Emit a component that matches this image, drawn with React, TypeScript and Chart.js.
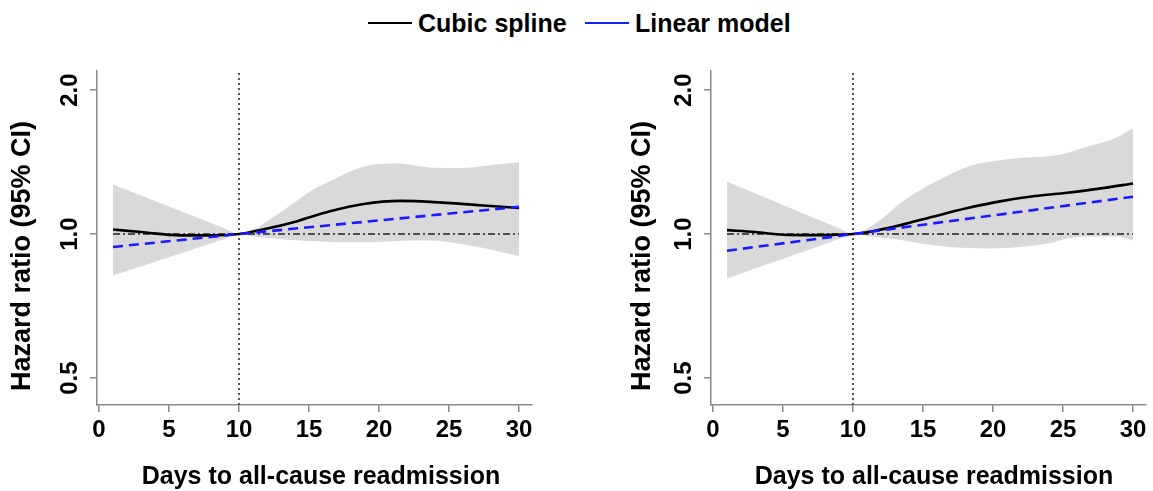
import React, { useEffect, useRef } from "react";
import { Chart, registerables } from "chart.js";

Chart.register(...registerables);

const FONT = "'Liberation Sans', Arial, Helvetica, sans-serif";

// Axis ticks and ranges
const X_TICKS = [0, 5, 10, 15, 20, 25, 30];
const Y_TICKS = [0.5, 1.0, 2.0];
const X_MIN = -0.143;
const X_MAX = 30.93;
const Y_MIN = 0.4393;
const Y_MAX = 2.192;
const REF_DAY = 10;
const REF_HR = 1.0;
const REF_LINE_DAYS = [1, 30];

// ---------- Left panel ----------
const SPLINE_DAYS_A = [1, 3, 5.8, 8, 10, 11.7, 14.1, 16.5, 18.9, 21.5, 24.8, 27.2, 30];
const SPLINE_HR_A = [1.022, 1.01, 0.994, 0.994, 1.0, 1.022, 1.063, 1.116, 1.156, 1.173, 1.162, 1.149, 1.134];
const LINEAR_DAYS_A = [1, 10, 20, 30];
const LINEAR_HR_A = [0.94, 1.0, 1.068, 1.14];
const BAND_DAYS_A = [1, 5, 9, 10, 11, 12, 12.9, 14.1, 15.3, 16.5, 17.7, 19.6, 21.3, 23.6, 26, 28.4, 30];
const UPPER_A = [1.269, 1.142, 1.027, 1.0, 1.022, 1.063, 1.107, 1.171, 1.239, 1.289, 1.342, 1.397, 1.404, 1.378, 1.375, 1.397, 1.413];
const LOWER_A = [0.819, 0.895, 0.978, 1.0, 0.988, 0.982, 0.977, 0.971, 0.966, 0.963, 0.961, 0.962, 0.967, 0.969, 0.952, 0.922, 0.899];

// ---------- Right panel ----------
const SPLINE_DAYS_B = [1, 3, 5, 7, 8.5, 10, 11.5, 13.4, 15.7, 18.1, 20.6, 23, 25.3, 27.7, 30];
const SPLINE_HR_B = [1.019, 1.01, 0.997, 0.995, 0.996, 1.0, 1.015, 1.044, 1.087, 1.132, 1.172, 1.201, 1.22, 1.246, 1.276];
const LINEAR_DAYS_B = [1, 10, 20, 30];
const LINEAR_HR_B = [0.923, 1.0, 1.094, 1.197];
const BAND_DAYS_B = [1, 5, 9, 10, 11.2, 12.3, 13.4, 15.7, 18.1, 19.6, 21.7, 24.1, 25.3, 26.4, 28.9, 30];
const UPPER_B = [1.286, 1.15, 1.028, 1.0, 1.034, 1.091, 1.161, 1.278, 1.38, 1.414, 1.441, 1.456, 1.477, 1.513, 1.596, 1.665];
const LOWER_B = [0.808, 0.888, 0.977, 1.0, 0.99, 0.981, 0.972, 0.948, 0.935, 0.933, 0.939, 0.958, 0.979, 0.987, 0.988, 0.968];

const X_TITLE = "Days to all-cause readmission";
const Y_TITLE = "Hazard ratio (95% CI)";
const LEGEND = ["Cubic spline", "Linear model"];

const BLUE = "#1a1aff";
const AXIS_GREY = "#8a8a8a";
const BAND_GREY = "#d9d9d9";

type Panel = {
  splDays: number[];
  splHr: number[];
  linDays: number[];
  linHr: number[];
  bandDays: number[];
  upper: number[];
  lower: number[];
  yTitleX: number;
  xTitleX: number;
};

const PANEL_A: Panel = {
  splDays: SPLINE_DAYS_A, splHr: SPLINE_HR_A,
  linDays: LINEAR_DAYS_A, linHr: LINEAR_HR_A,
  bandDays: BAND_DAYS_A, upper: UPPER_A, lower: LOWER_A,
  yTitleX: 23, xTitleX: 321,
};
const PANEL_B: Panel = {
  splDays: SPLINE_DAYS_B, splHr: SPLINE_HR_B,
  linDays: LINEAR_DAYS_B, linHr: LINEAR_HR_B,
  bandDays: BAND_DAYS_B, upper: UPPER_B, lower: LOWER_B,
  yTitleX: 29, xTitleX: 320,
};

const pts = (xs: number[], ys: number[]) => xs.map((x, i) => ({ x, y: ys[i] }));

// Draws the two axis titles as canvas text at the reference's positions.
const axisTitles = {
  id: "axisTitles",
  afterDraw(chart: any, _args: any, opts: any) {
    const { ctx } = chart;
    ctx.save();
    ctx.fillStyle = "#000";
    ctx.textAlign = "center";
    ctx.textBaseline = "middle";
    ctx.font = `bold ${opts.xSize}px ${FONT}`;
    ctx.fillText(opts.xText, opts.xX, opts.xY);
    ctx.font = `bold ${opts.ySize}px ${FONT}`;
    ctx.translate(opts.yX, opts.yY);
    ctx.rotate(-Math.PI / 2);
    ctx.fillText(opts.yText, 0, 0);
    ctx.restore();
  },
};

function makeConfig(p: Panel): any {
  return {
    type: "line",
    plugins: [axisTitles],
    data: {
      datasets: [
        {
          label: LEGEND[1],
          data: pts(p.linDays, p.linHr),
          borderColor: BLUE,
          borderWidth: 2.6,
          borderDash: [10, 6],
          pointRadius: 0,
          tension: 0,
          fill: false,
          order: 0,
        },
        {
          label: LEGEND[0],
          data: pts(p.splDays, p.splHr),
          borderColor: "#000",
          borderWidth: 2.6,
          pointRadius: 0,
          cubicInterpolationMode: "monotone",
          fill: false,
          order: 1,
        },
        {
          label: "ref-h",
          data: REF_LINE_DAYS.map((d) => ({ x: d, y: REF_HR })),
          borderColor: "#222",
          borderWidth: 1.5,
          borderDash: [7, 3, 2, 3],
          pointRadius: 0,
          fill: false,
          order: 2,
        },
        {
          label: "ref-v",
          data: [{ x: REF_DAY, y: Y_MIN }, { x: REF_DAY, y: Y_MAX }],
          borderColor: "#555",
          borderWidth: 2,
          borderDash: [2, 3],
          pointRadius: 0,
          fill: false,
          order: 3,
        },
        {
          label: "upper",
          data: pts(p.bandDays, p.upper),
          borderWidth: 0,
          borderColor: "rgba(0,0,0,0)",
          backgroundColor: BAND_GREY,
          pointRadius: 0,
          cubicInterpolationMode: "monotone",
          fill: "+1",
          order: 4,
        },
        {
          label: "lower",
          data: pts(p.bandDays, p.lower),
          borderWidth: 0,
          borderColor: "rgba(0,0,0,0)",
          pointRadius: 0,
          cubicInterpolationMode: "monotone",
          fill: false,
          order: 5,
        },
      ],
    },
    options: {
      animation: false,
      responsive: false,
      maintainAspectRatio: false,
      events: [],
      layout: { padding: { top: 71, right: 7, left: 0, bottom: 0 } },
      plugins: {
        legend: { display: false },
        tooltip: { enabled: false },
        axisTitles: {
          xText: X_TITLE, xSize: 25, xX: p.xTitleX, xY: 477,
          yText: Y_TITLE, ySize: 27, yX: p.yTitleX, yY: 256,
        },
      },
      scales: {
        x: {
          type: "linear",
          min: X_MIN,
          max: X_MAX,
          afterBuildTicks: (s: any) => {
            s.ticks = X_TICKS.map((v) => ({ value: v }));
          },
          afterFit: (s: any) => {
            s.height = 86;
          },
          grid: {
            display: true,
            drawOnChartArea: false,
            drawTicks: true,
            tickLength: 7,
            color: AXIS_GREY,
            lineWidth: 1.5,
          },
          border: { display: true, color: AXIS_GREY, width: 1.5 },
          ticks: {
            color: "#000",
            font: { family: FONT, size: 24, weight: "bold" },
            padding: 4,
            minRotation: 0,
            maxRotation: 0,
            autoSkip: false,
            callback: (v: any) => String(v),
          },
          title: { display: false, text: X_TITLE },
        },
        y: {
          type: "logarithmic",
          min: Y_MIN,
          max: Y_MAX,
          afterBuildTicks: (s: any) => {
            s.ticks = Y_TICKS.map((v) => ({ value: v }));
          },
          afterFit: (s: any) => {
            s.width = 97;
          },
          grid: {
            display: true,
            drawOnChartArea: false,
            drawTicks: true,
            tickLength: 7,
            color: AXIS_GREY,
            lineWidth: 1.5,
          },
          border: { display: true, color: AXIS_GREY, width: 1.5 },
          ticks: {
            color: "#000",
            font: { family: FONT, size: 24, weight: "bold" },
            padding: 3,
            minRotation: 90,
            maxRotation: 90,
            crossAlign: "center",
            autoSkip: false,
            callback: (v: any) => Number(v).toFixed(1),
          },
          title: { display: false, text: Y_TITLE },
        },
      },
    },
  };
}

function PanelChart({ panel, left }: { panel: Panel; left: number }) {
  const ref = useRef<HTMLCanvasElement | null>(null);
  useEffect(() => {
    if (!ref.current) return;
    const chart = new Chart(ref.current, makeConfig(panel));
    return () => chart.destroy();
  }, [panel]);
  return (
    <canvas
      ref={ref}
      width={539}
      height={491}
      style={{ position: "absolute", left, top: 0, width: 539, height: 491 }}
    />
  );
}

function LegendItem({ x, color, text }: { x: number; color: string; text: string }) {
  return (
    <>
      <div style={{ position: "absolute", left: x, top: 21.5, width: 44, height: 2.6, background: color }} />
      <div
        style={{
          position: "absolute",
          left: x + 50,
          top: 9,
          font: `bold 25px ${FONT}`,
          lineHeight: "28px",
          color: "#000",
          whiteSpace: "nowrap",
        }}
      >
        {text}
      </div>
    </>
  );
}

export default function App() {
  return (
    <div
      style={{
        position: "absolute",
        left: 0,
        top: 0,
        width: 1153,
        height: 491,
        background: "#fff",
        overflow: "hidden",
      }}
    >
      <LegendItem x={368} color="#000" text={LEGEND[0]} />
      <LegendItem x={585} color={BLUE} text={LEGEND[1]} />
      <PanelChart panel={PANEL_A} left={0} />
      <PanelChart panel={PANEL_B} left={614} />
    </div>
  );
}
